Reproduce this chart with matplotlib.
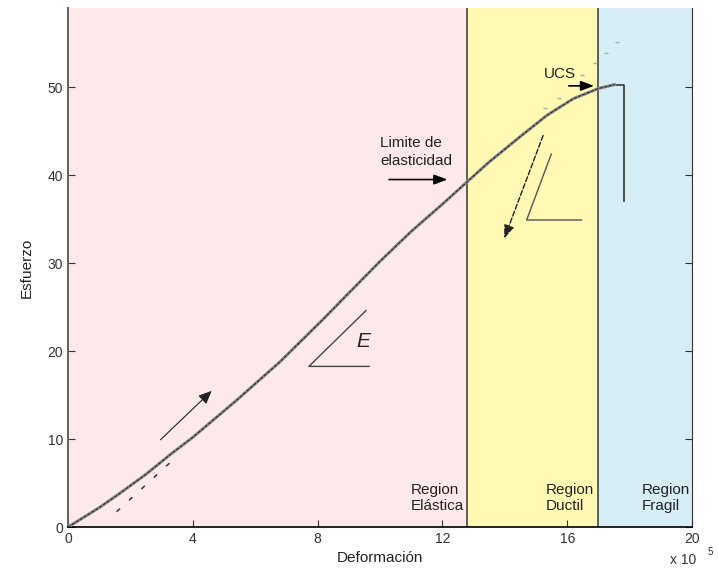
import matplotlib
matplotlib.use("Agg")
import matplotlib.pyplot as plt

plt.rcParams['font.family'] = ['Liberation Sans', 'DejaVu Sans']

# curva esfuerzo-deformacion
strain = [0, 0.5, 1.0, 1.66, 2.5, 3.3, 4.0, 5.4, 6.8, 8.2, 9.0, 10.0,
          11.0, 12.0, 12.78, 13.5, 14.5, 15.35, 16.2, 17.0, 17.53]
stress = [0, 1.1, 2.2, 3.83, 6.0, 8.3, 10.2, 14.4, 18.8, 23.7, 26.6, 30.2,
          33.6, 36.7, 39.2, 41.5, 44.4, 46.8, 48.7, 49.85, 50.3]

# limites de regiones
regions = [(0, 12.78, '#fde9e9'), (12.78, 17.0, '#fff9b4'), (17.0, 20.0, '#d6eef5')]
region_labels = ['Region\nElástica', 'Region\nDuctil', 'Region\nFragil']
region_label_x = [11.0, 15.3, 18.4]

# puntos dispersos sobre el UCS
scatter_x = [17.6, 17.25, 16.9, 16.47, 15.74, 15.3]
scatter_y = [55.1, 53.9, 52.7, 51.4, 48.8, 47.6]

xticks = [0, 4, 8, 12, 16, 20]
yticks = [0, 10, 20, 30, 40, 50]

fig = plt.figure(figsize=(7.18, 5.71), dpi=100)
ax = fig.add_axes([0.0947, 0.077, 0.8691, 0.909])

for x0, x1, c in regions:
    ax.axvspan(x0, x1, color=c, zorder=0, lw=0)
for x in [12.78, 17.0]:
    ax.axvline(x, color='#444444', lw=1.2, zorder=1)

for lab, lx in zip(region_labels, region_label_x):
    ax.text(lx, 3.3, lab, ha='left', va='center', fontsize=11, color='#222222',
            linespacing=1.25)

# curva principal
ax.plot(strain, stress, color='#8a8a8a', lw=2.2, zorder=3, solid_capstyle='round')
ax.plot(strain, stress, color='#111111', lw=0.6, ls=(0, (4, 1.5)), zorder=4)

# linea punteada inicial
ax.plot([1.56, 3.48], [1.74, 8.0], color='#333333', lw=1.1, ls=(0, (3, 8)), zorder=3)

# flecha de carga
ax.annotate('', xy=(4.67, 15.7), xytext=(2.9, 9.7),
            arrowprops=dict(arrowstyle='-|>,head_length=0.8,head_width=0.35',
                            color='#222222', lw=0.8))

# triangulo del modulo E
ax.plot([9.55, 7.72, 9.65], [24.6, 18.26, 18.26], color='#444444', lw=1.0)
ax.text(9.48, 21.1, 'E', fontsize=15, style='italic', ha='center', va='center',
        color='#222222')

# limite de elasticidad
ax.text(10.0, 42.6, 'Limite de\nelasticidad', fontsize=11, ha='left', va='center',
        color='#222222', linespacing=1.35)
ax.annotate('', xy=(12.25, 39.5), xytext=(10.2, 39.5),
            arrowprops=dict(arrowstyle='-|>,head_length=0.8,head_width=0.3',
                            color='black', lw=1.2))

# UCS
ax.text(15.77, 51.5, 'UCS', fontsize=11, ha='center', va='center', color='#222222')
ax.annotate('', xy=(16.95, 50.15), xytext=(15.96, 50.15),
            arrowprops=dict(arrowstyle='-|>,head_length=0.8,head_width=0.3',
                            color='black', lw=1.2))
ax.plot([17.53, 17.82, 17.82], [50.3, 50.3, 37.05], color='#333333', lw=1.2)
ax.scatter(scatter_x, scatter_y, marker='_', s=12, color='#aaaaaa', lw=1, zorder=3)

# descarga ductil
ax.annotate('', xy=(13.95, 32.5), xytext=(15.26, 44.8),
            arrowprops=dict(arrowstyle='-|>,head_length=0.8,head_width=0.3',
                            color='#222222', lw=1.0, ls='--'))
ax.plot([15.49, 14.7, 16.46], [42.4, 34.9, 34.9], color='#555555', lw=1.0)

ax.set_xlim(0, 20)
ax.set_ylim(0, 59)
ax.set_xticks(xticks)
ax.set_yticks(yticks)
ax.tick_params(direction='in', length=5, labelsize=10, labelcolor='#333333',
               right=True, color='#333333')
ax.spines['top'].set_visible(False)
ax.spines['left'].set_color('#666666')
ax.spines['left'].set_linewidth(1.5)
ax.spines['bottom'].set_linewidth(1.2)
ax.spines['right'].set_color('#333333')

ax.set_xlabel('Deformación', fontsize=11, color='#222222', labelpad=4)
ax.set_ylabel('Esfuerzo', fontsize=11, color='#222222', labelpad=10)

fig.text(0.933, 0.012, 'x 10', fontsize=10, color='#333333', ha='left')
fig.text(0.985, 0.028, '5', fontsize=7, color='#333333', ha='left')

fig.savefig('out.png', dpi=100)
